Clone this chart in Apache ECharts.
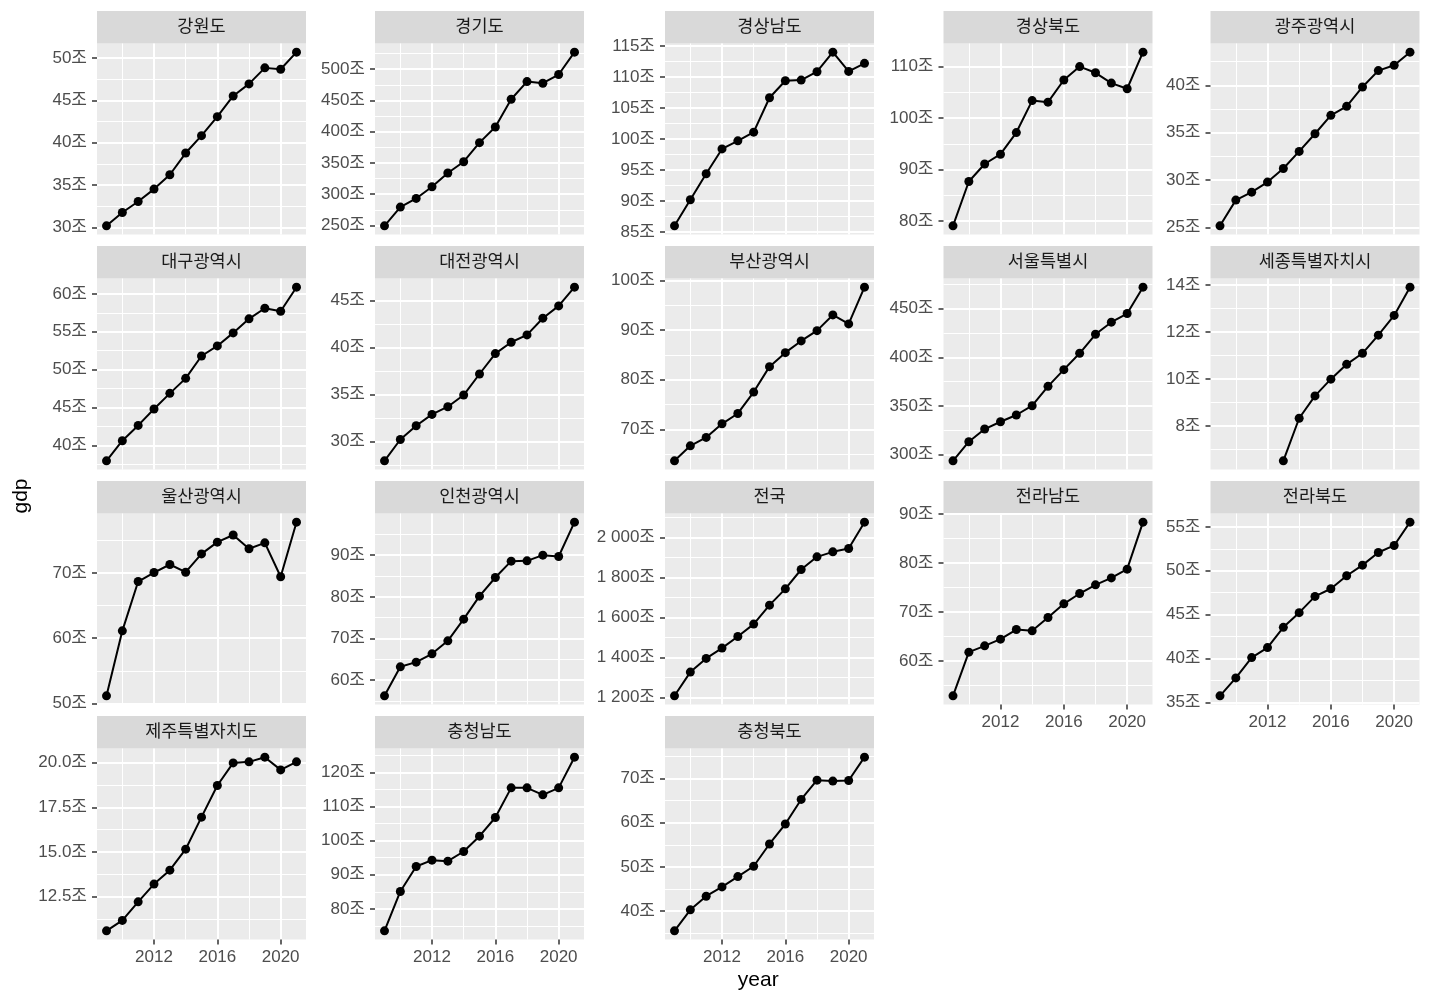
<!DOCTYPE html>
<html><head><meta charset="utf-8">
<script src="https://cdn.jsdelivr.net/npm/echarts@6/dist/echarts.min.js"></script>
<style>html,body{margin:0;padding:0;background:#fff}#c{width:1430px;height:1001px}</style>
</head><body><div id="c"></div>
<script>
// ---------- data ----------
const years = [2009, 2010, 2011, 2012, 2013, 2014, 2015, 2016, 2017, 2018, 2019, 2020, 2021];
const xMajorTicks = [2012, 2016, 2020];
const xMinorTicks = [2010, 2014, 2018];

const gdp_gangwon   = [30.2, 31.77, 33.07, 34.53, 36.22, 38.78, 40.83, 43.07, 45.51, 46.93, 48.82, 48.66, 50.67];
const gdp_gyeonggi  = [249.5, 279.4, 293.3, 312.0, 333.9, 352.0, 382.5, 407.6, 451.9, 480.2, 477.6, 491.5, 527.2];
const gdp_gyeongnam = [86.0, 90.2, 94.4, 98.4, 99.7, 101.1, 106.65, 109.4, 109.5, 110.85, 114.0, 110.9, 112.2];
const gdp_gyeongbuk = [79.1, 87.7, 91.1, 93.0, 97.2, 103.4, 103.1, 107.4, 110.0, 108.8, 106.8, 105.7, 112.8];
const gdp_gwangju   = [25.18, 27.89, 28.73, 29.79, 31.23, 33.03, 34.89, 36.83, 37.78, 39.82, 41.55, 42.11, 43.49];
const gdp_daegu     = [37.97, 40.62, 42.64, 44.8, 46.87, 48.85, 51.8, 53.13, 54.85, 56.7, 58.1, 57.7, 60.88];
const gdp_daejeon   = [27.94, 30.21, 31.67, 32.88, 33.7, 34.94, 37.18, 39.35, 40.56, 41.34, 43.12, 44.43, 46.42];
const gdp_busan     = [63.68, 66.7, 68.4, 71.14, 73.22, 77.53, 82.65, 85.47, 87.83, 89.9, 93.07, 91.26, 98.66];
const gdp_seoul     = [293.8, 313.4, 326.4, 333.9, 340.8, 350.3, 370.2, 387.3, 404.1, 423.6, 436.0, 444.9, 471.9];
const gdp_sejong    = [null, null, null, null, 6.52, 8.33, 9.28, 9.99, 10.62, 11.09, 11.86, 12.7, 13.9];
const gdp_ulsan     = [51.17, 61.12, 68.67, 70.05, 71.28, 70.1, 72.9, 74.7, 75.8, 73.7, 74.6, 69.4, 77.76];
const gdp_incheon   = [56.24, 63.2, 64.32, 66.32, 69.44, 74.64, 80.16, 84.64, 88.56, 88.64, 90.0, 89.68, 97.92];
const gdp_national  = [1208, 1326.7, 1395, 1446.7, 1505, 1566.7, 1661.7, 1743.3, 1840, 1903.3, 1928.3, 1945, 2076.7];
const gdp_jeonnam   = [52.93, 61.84, 63.13, 64.49, 66.46, 66.19, 68.91, 71.7, 73.81, 75.58, 77.0, 78.78, 88.37];
const gdp_jeonbuk   = [35.76, 37.8, 40.11, 41.25, 43.56, 45.23, 47.08, 47.95, 49.43, 50.64, 52.08, 52.88, 55.53];
const gdp_jeju      = [10.6, 11.18, 12.22, 13.21, 13.99, 15.16, 16.95, 18.72, 19.98, 20.04, 20.3, 19.59, 20.04];
const gdp_chungnam  = [73.55, 85.09, 92.42, 94.28, 93.99, 96.82, 101.32, 106.8, 115.5, 115.5, 113.45, 115.5, 124.5];
const gdp_chungbuk  = [35.56, 40.3, 43.38, 45.49, 47.82, 50.15, 55.19, 59.7, 65.26, 69.62, 69.4, 69.55, 74.81];

const ticks_gangwon   = [30, 35, 40, 45, 50];
const ticks_gyeonggi  = [250, 300, 350, 400, 450, 500];
const ticks_gyeongnam = [85, 90, 95, 100, 105, 110, 115];
const ticks_gyeongbuk = [80, 90, 100, 110];
const ticks_gwangju   = [25, 30, 35, 40];
const ticks_daegu     = [40, 45, 50, 55, 60];
const ticks_daejeon   = [30, 35, 40, 45];
const ticks_busan     = [70, 80, 90, 100];
const ticks_seoul     = [300, 350, 400, 450];
const ticks_sejong    = [8, 10, 12, 14];
const ticks_ulsan     = [50, 60, 70];
const ticks_incheon   = [60, 70, 80, 90];
const ticks_national  = [1200, 1400, 1600, 1800, 2000];
const ticks_jeonnam   = [60, 70, 80, 90];
const ticks_jeonbuk   = [35, 40, 45, 50, 55];
const ticks_jeju      = [12.5, 15.0, 17.5, 20.0];
const ticks_chungnam  = [80, 90, 100, 110, 120];
const ticks_chungbuk  = [40, 50, 60, 70];

const regionNames = ['강원도','경기도','경상남도','경상북도','광주광역시',
  '대구광역시','대전광역시','부산광역시','서울특별시','세종특별자치시',
  '울산광역시','인천광역시','전국','전라남도','전라북도',
  '제주특별자치도','충청남도','충청북도'];
const regionValues = [gdp_gangwon, gdp_gyeonggi, gdp_gyeongnam, gdp_gyeongbuk, gdp_gwangju,
  gdp_daegu, gdp_daejeon, gdp_busan, gdp_seoul, gdp_sejong,
  gdp_ulsan, gdp_incheon, gdp_national, gdp_jeonnam, gdp_jeonbuk,
  gdp_jeju, gdp_chungnam, gdp_chungbuk];
const regionTicks = [ticks_gangwon, ticks_gyeonggi, ticks_gyeongnam, ticks_gyeongbuk, ticks_gwangju,
  ticks_daegu, ticks_daejeon, ticks_busan, ticks_seoul, ticks_sejong,
  ticks_ulsan, ticks_incheon, ticks_national, ticks_jeonnam, ticks_jeonbuk,
  ticks_jeju, ticks_chungnam, ticks_chungbuk];
const unitSuffix = '조';
const xTitle = 'year';
const yTitle = 'gdp';

// ---------- layout ----------
const FONT = '"Liberation Sans", Arial, "Noto Sans CJK KR", sans-serif';
const colLeft = [97, 375, 665, 943.5, 1210.5];
const rowTop = [11, 246, 481, 716];
const PW = 209, STRIP_H = 32.5, PH = 191;

function fmtLabel(v, dec) {
  let s = dec ? v.toFixed(1) : String(Math.round(v));
  const parts = s.split('.');
  parts[0] = parts[0].replace(/\B(?=(\d{3})+(?!\d))/g, ' ');
  return parts.join('.') + unitSuffix;
}

const chart = echarts.init(document.getElementById('c'), null, {renderer: 'canvas'});
const grids = [], xAxes = [], yAxes = [], series = [], graphics = [];
const yrSpan = years[years.length - 1] - years[0];
const xMin = years[0] - yrSpan * 0.05, xMax = years[years.length - 1] + yrSpan * 0.05;

regionNames.forEach((name, i) => {
  const r = Math.floor(i / 5), c = i % 5;
  const vals = regionValues[i];
  const ticks = regionTicks[i];
  const top = rowTop[r] + STRIP_H;
  grids.push({left: colLeft[c], top: top, width: PW, height: PH, show: true,
    backgroundColor: '#EBEBEB', borderWidth: 0});
  const valid = vals.filter(v => v != null);
  const lo = Math.min(...valid), hi = Math.max(...valid), pad = (hi - lo) * 0.05;
  const yMin = lo - pad, yMax = hi + pad;
  const step = ticks[1] - ticks[0];
  const minors = [];
  [ticks[0] - step / 2].concat(ticks.map(t => t + step / 2)).forEach(m => {
    if (m > yMin && m < yMax) minors.push(m);
  });
  const dec = ticks.some(t => Math.round(t) !== t);
  const showX = (r === 3) || (r === 2 && c >= 3);

  xAxes.push({type: 'value', gridIndex: i, min: xMin, max: xMax, position: 'bottom',
    axisLine: {show: false},
    axisTick: {show: showX, customValues: xMajorTicks, length: 5, lineStyle: {color: '#333333', width: 1.5}},
    axisLabel: {show: showX, customValues: xMajorTicks, color: '#4D4D4D', fontSize: 17, fontFamily: FONT, margin: 9,
      formatter: v => String(v)},
    splitLine: {show: true, lineStyle: {color: '#FFFFFF', width: 2}}});
  xAxes.push({type: 'value', gridIndex: i, min: xMin, max: xMax, position: 'bottom',
    axisLine: {show: false},
    axisTick: {show: false, customValues: xMinorTicks},
    axisLabel: {show: false, customValues: xMinorTicks},
    splitLine: {show: true, lineStyle: {color: '#FFFFFF', width: 1}}});
  yAxes.push({type: 'value', gridIndex: i, min: yMin, max: yMax, position: 'left',
    axisLine: {show: false},
    axisTick: {show: true, customValues: ticks, length: 5, lineStyle: {color: '#333333', width: 1.5}},
    axisLabel: {show: true, customValues: ticks, color: '#4D4D4D', fontSize: 17, fontFamily: FONT, margin: 10,
      formatter: v => fmtLabel(v, dec)},
    splitLine: {show: true, lineStyle: {color: '#FFFFFF', width: 2}}});
  yAxes.push({type: 'value', gridIndex: i, min: yMin, max: yMax, position: 'left',
    axisLine: {show: false},
    axisTick: {show: false, customValues: minors},
    axisLabel: {show: false, customValues: minors},
    splitLine: {show: true, lineStyle: {color: '#FFFFFF', width: 1}}});

  const data = [];
  years.forEach((yr, j) => { if (vals[j] != null) data.push([yr, vals[j]]); });
  series.push({type: 'line', xAxisIndex: 2 * i, yAxisIndex: 2 * i, data: data,
    symbol: 'circle', symbolSize: 9, showSymbol: true,
    itemStyle: {color: '#000000'}, lineStyle: {color: '#000000', width: 2},
    emphasis: {disabled: true}, z: 5});

  graphics.push({type: 'rect', shape: {x: colLeft[c], y: rowTop[r], width: PW, height: STRIP_H},
    style: {fill: '#D9D9D9'}, silent: true});
  graphics.push({type: 'text', x: colLeft[c] + PW / 2, y: rowTop[r] + STRIP_H / 2,
    style: {text: name, fill: '#1A1A1A', font: '17.5px ' + FONT,
      align: 'center', verticalAlign: 'middle', textAlign: 'center', textVerticalAlign: 'middle'}, silent: true});
});

graphics.push({type: 'text', x: (colLeft[0] + colLeft[4] + PW) / 2, y: 980,
  style: {text: xTitle, fill: '#000000', font: '21px ' + FONT,
    align: 'center', verticalAlign: 'middle', textAlign: 'center', textVerticalAlign: 'middle'}, silent: true});
graphics.push({type: 'text', x: 21, y: 496, rotation: Math.PI / 2,
  style: {text: yTitle, fill: '#000000', font: '21px ' + FONT,
    align: 'center', verticalAlign: 'middle', textAlign: 'center', textVerticalAlign: 'middle'}, silent: true});

chart.setOption({
  animation: false,
  backgroundColor: '#FFFFFF',
  grid: grids, xAxis: xAxes, yAxis: yAxes, series: series,
  graphic: {elements: graphics}
});
</script>
</body></html>
